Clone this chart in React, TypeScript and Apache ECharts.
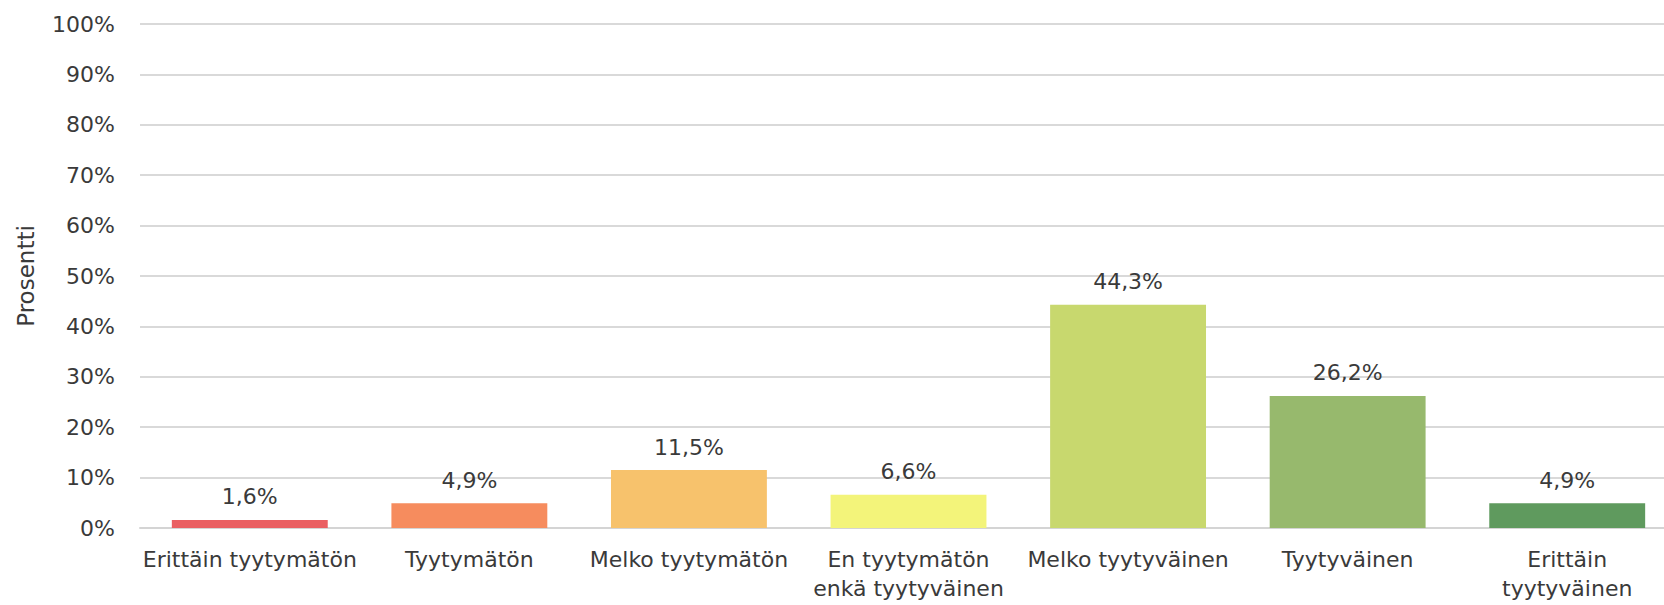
import React, { useEffect, useRef } from "react";
import * as echarts from "echarts";

const categories: string[] = [
  "Erittäin tyytymätön",
  "Tyytymätön",
  "Melko tyytymätön",
  "En tyytymätön\nenkä tyytyväinen",
  "Melko tyytyväinen",
  "Tyytyväinen",
  "Erittäin\ntyytyväinen",
];
const values: number[] = [1.6, 4.9, 11.5, 6.6, 44.3, 26.2, 4.9];
const barColors: string[] = [
  "#ea5f62",
  "#f68c5e",
  "#f7c26c",
  "#f3f47a",
  "#c8d86e",
  "#97b96d",
  "#5f9a5e",
];
const yTicks = { min: 0, max: 100, interval: 10 };
const yAxisName = "Prosentti";

const FONT = "DejaVu Sans";
const TEXT = "#3a3a3a";

export default function App() {
  const ref = useRef<HTMLDivElement>(null);
  useEffect(() => {
    if (!ref.current) return;
    const chart = echarts.init(ref.current, undefined, { renderer: "svg" });
    chart.setOption({
      animation: false,
      backgroundColor: "#ffffff",
      grid: { left: 140, right: 0, top: 24, bottom: 77, containLabel: false },
      xAxis: {
        type: "category",
        data: categories,
        axisTick: { show: false },
        axisLine: { show: true, lineStyle: { color: "#d4d4d4", width: 2 } },
        axisLabel: {
          interval: 0,
          margin: 17,
          color: TEXT,
          fontFamily: FONT,
          fontSize: 22,
          lineHeight: 29,
        },
      },
      yAxis: {
        type: "value",
        min: yTicks.min,
        max: yTicks.max,
        interval: yTicks.interval,
        name: yAxisName,
        nameLocation: "middle",
        nameGap: 103,
        nameTextStyle: { color: TEXT, fontFamily: FONT, fontSize: 23 },
        axisLine: { show: false },
        axisTick: { show: false },
        splitLine: { lineStyle: { color: "#d9d9d9", width: 2 } },
        axisLabel: {
          formatter: "{value}%",
          margin: 25,
          color: TEXT,
          fontFamily: FONT,
          fontSize: 22,
        },
      },
      series: [
        {
          type: "bar",
          barWidth: "71%",
          data: values.map((v, i) => ({ value: v, itemStyle: { color: barColors[i] } })),
          label: {
            show: true,
            position: "top",
            distance: 12,
            color: TEXT,
            fontFamily: FONT,
            fontSize: 22,
            formatter: (p: any) => String(p.value).replace(".", ",") + "%",
          },
        },
      ],
    });
    return () => chart.dispose();
  }, []);
  return (
    <div
      style={{
        position: "absolute",
        left: 0,
        top: 0,
        width: 1664,
        height: 605,
        overflow: "hidden",
      }}
    >
      <div ref={ref} style={{ width: 1677, height: 605 }} />
    </div>
  );
}
